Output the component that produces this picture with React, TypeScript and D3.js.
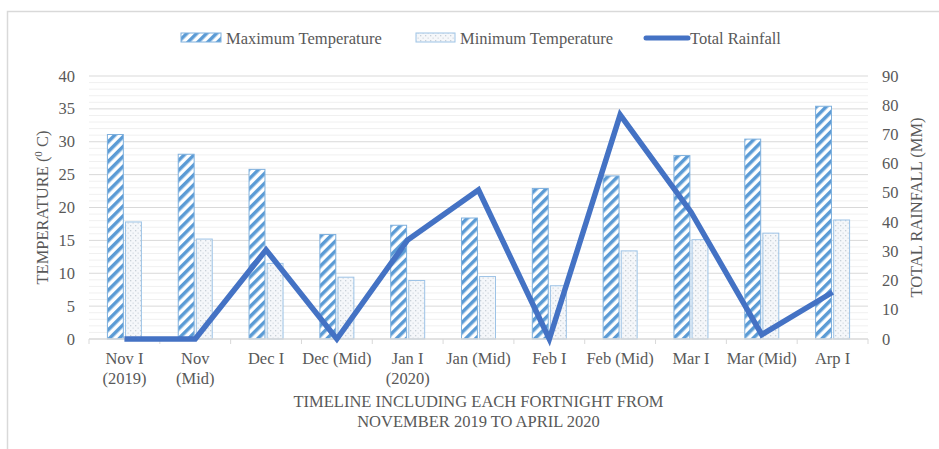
import React from "react";
import * as d3 from "d3";

const categories = [
  ["Nov I", "(2019)"],
  ["Nov", "(Mid)"],
  ["Dec I"],
  ["Dec (Mid)"],
  ["Jan I", "(2020)"],
  ["Jan (Mid)"],
  ["Feb I"],
  ["Feb (Mid)"],
  ["Mar I"],
  ["Mar (Mid)"],
  ["Arp I"],
];
const maxTemp = [31.1, 28.1, 25.8, 15.9, 17.3, 18.4, 22.9, 24.8, 27.9, 30.4, 35.4];
const minTemp = [17.8, 15.2, 11.5, 9.4, 8.9, 9.5, 8.1, 13.4, 15.1, 16.1, 18.1];
const rainfall = [0, 0, 30.5, 0, 33.9, 51, 0, 76.7, 43.5, 1.5, 16];
const tempTicks = [0, 5, 10, 15, 20, 25, 30, 35, 40];
const rainTicks = [0, 10, 20, 30, 40, 50, 60, 70, 80, 90];

const W = 939;
const H = 449;
const plot = { left: 89, right: 868, top: 76, bottom: 339 };
const FONT = "'Liberation Serif', 'Times New Roman', serif";
const FS = 16.5;
const TEXT = "#595959";
const LINE_BLUE = "#4472c4";

export default function App() {
  const keys = categories.map((c) => c.join(" "));
  const x = d3.scaleBand<string>().domain(keys).range([plot.left, plot.right]);
  const bw = x.bandwidth();
  const xs = d3
    .scaleBand<string>()
    .domain(["max", "min"])
    .range([bw / 2 - 17, bw / 2 + 17])
    .paddingInner(0.12);
  const yT = d3.scaleLinear().domain([0, 40]).range([plot.bottom, plot.top]);
  const yR = d3.scaleLinear().domain([0, 90]).range([plot.bottom, plot.top]);

  const line = d3
    .line<number>()
    .x((_, i) => (x(keys[i]) as number) + bw / 2)
    .y((d) => yR(d));

  const minor = d3.range(1, 40).filter((v) => v % 5 !== 0);

  return (
    <>
      <style>{`body{margin:0}`}</style>
      <svg width={W} height={H} style={{ display: "block", fontFamily: FONT }}>
        <defs>
          <pattern id="stripes" width={7} height={7} patternUnits="userSpaceOnUse" patternTransform="rotate(45)">
            <rect width={7} height={7} fill="#ffffff" />
            <rect width={3.5} height={7} fill="#5b9bd5" />
          </pattern>
          <pattern id="dots" width={5} height={5} patternUnits="userSpaceOnUse">
            <rect width={5} height={5} fill="#f5f7fa" />
            <rect x={0} y={0} width={1.3} height={1.3} fill="#c8d0d8" />
            <rect x={2.5} y={2.5} width={1.3} height={1.3} fill="#d5dce3" />
          </pattern>
        </defs>

        {/* chart border */}
        <rect x={7.5} y={11.5} width={W} height={H} fill="none" stroke="#d9d9d9" strokeWidth={1.5} />

        {/* legend */}
        <g fontSize={FS} fill={TEXT}>
          <rect x={181} y={33} width={40} height={9} fill="url(#stripes)" stroke="#7fb0dd" />
          <text x={226} y={43.5}>Maximum Temperature</text>
          <rect x={416} y={33} width={39} height={9} fill="url(#dots)" stroke="#9dc3e6" />
          <text x={460} y={43.5}>Minimum Temperature</text>
          <line x1={646} x2={688} y1={38} y2={38} stroke={LINE_BLUE} strokeWidth={5} strokeLinecap="round" />
          <text x={690} y={43.5}>Total Rainfall</text>
        </g>

        {/* gridlines */}
        {minor.map((v) => (
          <line key={"m" + v} x1={plot.left} x2={plot.right} y1={yT(v)} y2={yT(v)} stroke="#f0f0f0" strokeWidth={1} />
        ))}
        {tempTicks.slice(1).map((v) => (
          <line key={"g" + v} x1={plot.left} x2={plot.right} y1={yT(v)} y2={yT(v)} stroke="#d9d9d9" strokeWidth={1} />
        ))}

        {/* bars */}
        {keys.map((k, i) => {
          const x0 = x(k) as number;
          return (
            <g key={k}>
              <rect
                x={x0 + (xs("max") as number)}
                y={yT(maxTemp[i])}
                width={xs.bandwidth()}
                height={yT(0) - yT(maxTemp[i])}
                fill="url(#stripes)"
                stroke="#7fb0dd"
              />
              <rect
                x={x0 + (xs("min") as number)}
                y={yT(minTemp[i])}
                width={xs.bandwidth()}
                height={yT(0) - yT(minTemp[i])}
                fill="url(#dots)"
                stroke="#9dc3e6"
              />
            </g>
          );
        })}

        {/* x axis */}
        <line x1={plot.left} x2={plot.right} y1={plot.bottom} y2={plot.bottom} stroke="#d9d9d9" strokeWidth={1.5} />
        {d3.range(keys.length + 1).map((i) => {
          const xx = plot.left + i * bw;
          return <line key={"t" + i} x1={xx} x2={xx} y1={plot.bottom} y2={plot.bottom + 5} stroke="#d9d9d9" />;
        })}

        {/* rainfall line */}
        <path d={line(rainfall) ?? ""} fill="none" stroke={LINE_BLUE} strokeWidth={5.5} strokeLinejoin="miter" strokeMiterlimit={10} />

        {/* tick labels */}
        <g fontSize={FS} fill={TEXT}>
          {tempTicks.map((v) => (
            <text key={"lt" + v} x={75} y={yT(v) + 5.5} textAnchor="end">
              {v}
            </text>
          ))}
          {rainTicks.map((v) => (
            <text key={"rt" + v} x={882} y={yR(v) + 5.5}>
              {v}
            </text>
          ))}
          {categories.map((c, i) => (
            <text key={"c" + i} x={(x(keys[i]) as number) + bw / 2} y={364} textAnchor="middle">
              {c.map((s, j) => (
                <tspan key={j} x={(x(keys[i]) as number) + bw / 2} dy={j === 0 ? 0 : 20}>
                  {s}
                </tspan>
              ))}
            </text>
          ))}
        </g>

        {/* axis titles */}
        <g fontSize={FS} fill={TEXT}>
          <text x={(plot.left + plot.right) / 2} y={407} textAnchor="middle">
            TIMELINE INCLUDING EACH FORTNIGHT FROM
          </text>
          <text x={(plot.left + plot.right) / 2} y={427} textAnchor="middle">
            NOVEMBER 2019 TO APRIL 2020
          </text>
          <text transform={`translate(48, ${(plot.top + plot.bottom) / 2}) rotate(-90)`} textAnchor="middle">
            {"TEMPERATURE  ("}
            <tspan fontSize={11} dy={-6}>0</tspan>
            <tspan dy={6}>{" C)"}</tspan>
          </text>
          <text transform={`translate(922, ${(plot.top + plot.bottom) / 2}) rotate(-90)`} textAnchor="middle">
            TOTAL RAINFALL (MM)
          </text>
        </g>
      </svg>
    </>
  );
}
